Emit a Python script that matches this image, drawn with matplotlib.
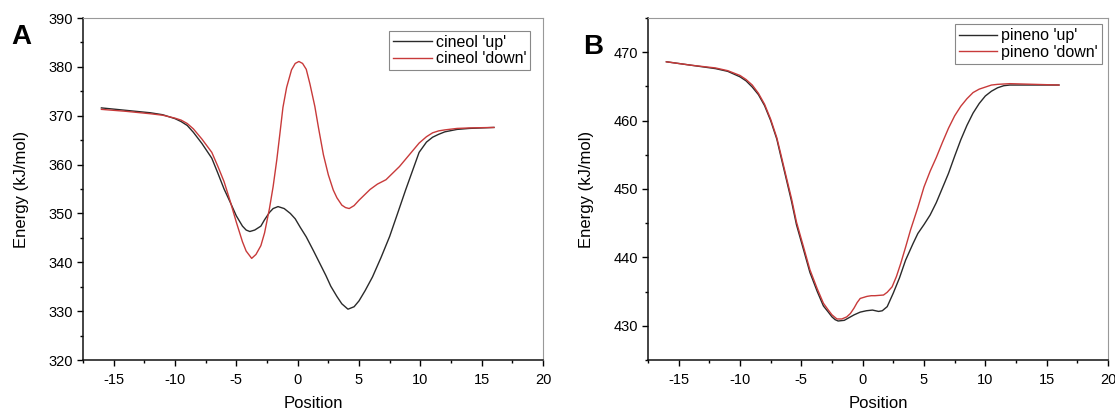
import numpy as np
import matplotlib
matplotlib.use('Agg')
import matplotlib.pyplot as plt
from matplotlib.ticker import MultipleLocator

# panel A - cineol
xa_up = [-16, -14, -12, -11, -10, -9.5, -9, -8.5, -7.8, -7, -6.5, -6, -5.5, -5, -4.5, -4.2, -3.9,
         -3.5, -3, -2.7, -2.3, -2.0, -1.6, -1.1, -0.6, -0.2, 0.2, 0.7, 1.3, 1.8, 2.3, 2.7, 3.2, 3.6,
         4.1, 4.6, 5, 5.5, 6.1, 6.8, 7.5, 8.2, 8.8, 9.3, 9.9, 10.5, 11, 11.5, 12, 13, 14, 16]
ya_up = [371.6, 371.1, 370.6, 370.2, 369.4, 368.8, 368.0, 366.6, 364.3, 361.3, 358.2, 355.0, 352.3,
         349.5, 347.4, 346.6, 346.3, 346.6, 347.4, 348.7, 350.2, 351.0, 351.4, 351.0, 350.0, 348.9,
         347.2, 345.2, 342.3, 339.8, 337.3, 335.1, 333.0, 331.5, 330.4, 330.9, 332.1, 334.2, 337.0,
         341.0, 345.3, 350.4, 354.8, 358.3, 362.5, 364.6, 365.6, 366.2, 366.7, 367.2, 367.4, 367.6]
xa_down = [-16, -14, -12, -11, -10, -9.5, -9, -8.5, -7.8, -7, -6.5, -6, -5.5, -5, -4.5, -4.2, -3.75,
           -3.4, -3.0, -2.7, -2.3, -2.0, -1.7, -1.45, -1.2, -0.9, -0.5, -0.2, 0.1, 0.4, 0.7, 1.0, 1.4,
           1.7, 2.1, 2.5, 2.9, 3.2, 3.6, 3.9, 4.2, 4.6, 5.0, 5.9, 6.5, 7.2, 8.3, 9.1, 9.9, 10.5, 11,
           11.5, 12, 13, 14, 16]
ya_down = [371.3, 370.9, 370.4, 370.1, 369.5, 369.1, 368.4, 367.3, 365.2, 362.5, 359.6, 356.5, 352.5,
           348.2, 344.2, 342.3, 340.8, 341.6, 343.4, 346.0, 351.0, 355.5, 361.0, 366.3, 371.7, 375.8,
           379.4, 380.7, 381.1, 380.7, 379.5, 376.5, 371.9, 367.5, 362.0, 357.9, 354.8, 353.2, 351.7,
           351.2, 351.0, 351.6, 352.7, 354.9, 356.0, 356.9, 359.6, 362.0, 364.4, 365.7, 366.5, 366.9,
           367.1, 367.4, 367.5, 367.6]

# panel B - pineno
xb_up = [-16, -14, -12, -11, -10, -9.5, -9, -8.5, -8, -7.5, -7, -6.7, -6.3, -5.8, -5.4, -4.8, -4.3,
         -3.7, -3.2, -2.8, -2.5, -2.25, -2, -1.5, -1.0, -0.7, -0.2, 0.3, 0.8, 1.3, 1.6, 2.0, 2.5, 3.0,
         3.5, 4.1, 4.5, 5.0, 5.5, 6.0, 6.7, 7, 7.5, 8, 8.5, 9, 9.5, 10, 10.5, 11, 11.5, 12, 14, 16]
yb_up = [468.6, 468.1, 467.6, 467.2, 466.4, 465.8, 464.9, 463.8, 462.2, 460.0, 457.3, 455.0, 452.0,
         448.2, 444.8, 441.0, 437.8, 435.0, 432.9, 432.0, 431.3, 430.9, 430.7, 430.8, 431.3, 431.6,
         432.0, 432.2, 432.3, 432.1, 432.2, 432.8, 434.8, 437.0, 439.6, 442.0, 443.5, 444.8, 446.2,
         448.0, 451.0, 452.3, 454.8, 457.2, 459.3, 461.1, 462.5, 463.6, 464.3, 464.8, 465.1, 465.2,
         465.2, 465.2]
xb_down = [-16, -14, -12, -11, -10, -9.5, -9, -8.5, -8, -7.5, -7, -6.7, -6.3, -5.8, -5.4, -4.8, -4.3,
           -3.7, -3.2, -2.8, -2.5, -2.1, -1.7, -1.3, -1.0, -0.7, -0.45, -0.2, 0.35, 0.7, 1.0, 1.7, 2.0,
           2.4, 2.75, 3.1, 3.5, 3.9, 4.5, 5.0, 5.5, 6, 6.5, 7, 7.5, 8, 8.5, 9, 9.5, 10, 10.5, 11, 12,
           14, 16]
yb_down = [468.6, 468.1, 467.7, 467.3, 466.6, 466.0, 465.2, 464.0, 462.4, 460.2, 457.5, 455.3, 452.3,
           448.6, 445.2, 441.4, 438.2, 435.4, 433.3, 432.3, 431.6, 431.0, 431.0, 431.3, 431.8, 432.6,
           433.4, 434.0, 434.3, 434.4, 434.4, 434.5, 434.9, 435.7, 437.2, 439.1, 441.5, 444.0, 447.3,
           450.3, 452.6, 454.6, 456.8, 458.9, 460.7, 462.1, 463.2, 464.1, 464.6, 464.9, 465.2, 465.3,
           465.4, 465.3, 465.2]

plt.rcParams['font.family'] = ['Liberation Sans', 'DejaVu Sans']
plt.rcParams['axes.unicode_minus'] = False

black = '#2a2a2a'
red = '#c83a3a'

fig = plt.figure(figsize=(11.15, 4.11), dpi=100)


def style(ax, ylim, ymaj):
    ax.set_xlim(-17.5, 20)
    ax.set_ylim(*ylim)
    ax.xaxis.set_major_locator(MultipleLocator(5))
    ax.xaxis.set_minor_locator(MultipleLocator(2.5))
    ax.yaxis.set_major_locator(MultipleLocator(ymaj))
    ax.yaxis.set_minor_locator(MultipleLocator(ymaj / 2))
    for s in ['left', 'bottom']:
        ax.spines[s].set_linewidth(1.1)
        ax.spines[s].set_color('#111111')
    for s in ['top', 'right']:
        ax.spines[s].set_linewidth(0.8)
        ax.spines[s].set_color('#999999')
    ax.tick_params(which='major', direction='out', length=4, width=1, labelsize=10.5, pad=3)
    ax.tick_params(axis='x', which='major', pad=5)
    ax.tick_params(which='minor', direction='out', length=2.5, width=1)
    ax.set_xlabel('Position', fontsize=12, labelpad=7)
    ax.set_ylabel('Energy (kJ/mol)', fontsize=12, labelpad=14)


axA = fig.add_axes([83 / 1115, 1 - 360 / 411, 460 / 1115, 342 / 411])
axA.plot(xa_up, ya_up, color=black, lw=1.0, label="cineol 'up'")
axA.plot(xa_down, ya_down, color=red, lw=1.0, label="cineol 'down'")
style(axA, (320, 390), 10)
axA.legend(loc='upper right', fontsize=11.5, frameon=True, fancybox=False, edgecolor='#888888',
           framealpha=1, labelspacing=0.1, borderpad=0.25, handlelength=2.4, handletextpad=0.25,
           borderaxespad=0.8).get_frame().set_linewidth(0.8)

axB = fig.add_axes([648 / 1115, 1 - 360 / 411, 460 / 1115, 342 / 411])
axB.plot(xb_up, yb_up, color=black, lw=1.0, label="pineno 'up'")
axB.plot(xb_down, yb_down, color=red, lw=1.0, label="pineno 'down'")
style(axB, (425, 475), 10)
axB.legend(loc='upper right', fontsize=11.5, frameon=True, fancybox=False, edgecolor='#888888',
           framealpha=1, labelspacing=0.1, borderpad=0.25, handlelength=2.4, handletextpad=0.25,
           borderaxespad=0.4).get_frame().set_linewidth(0.8)

fig.text(11 / 1115, 1 - 44 / 411, 'A', fontsize=20, fontweight='bold')
fig.text(583 / 1115, 1 - 54 / 411, 'B', fontsize=20, fontweight='bold')

plt.savefig('out.png', dpi=100)
